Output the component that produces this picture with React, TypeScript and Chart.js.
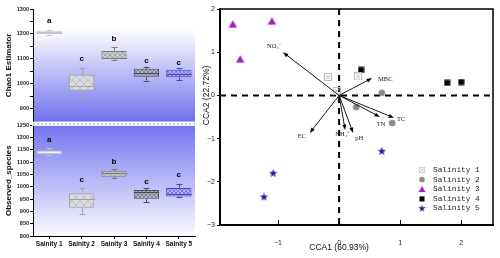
import React, { useEffect, useRef } from "react";
import { Chart, registerables } from "chart.js";
Chart.register(...registerables);

// ---------- Left panel data (box plots) ----------
const categories = ["Sainity 1", "Sainity 2", "Sainity 3", "Sainity 4", "Sainity 5"];
const letters = ["a", "c", "b", "c", "c"];

const chaoTicks = [900, 950, 1000, 1050, 1100, 1150, 1200, 1250, 1300];
const chaoMin = [1197, 952, 1096, 1013, 1016];
const chaoQ1 = [1200, 972, 1100, 1028, 1026];
const chaoMed = [1207, 992, 1104, 1044, 1041];
const chaoQ3 = [1213, 1036, 1132, 1060, 1056];
const chaoMax = [1216, 1064, 1148, 1068, 1064];
const chaoLetterY = [1252, 1100, 1180, 1092, 1086];

const obsTicks = [800, 850, 900, 950, 1000, 1050, 1100, 1150, 1200, 1250];
const obsMin = [1129, 891, 1034, 938, 958];
const obsQ1 = [1131, 915, 1041, 951, 961];
const obsMed = [1137, 949, 1056, 978, 971];
const obsQ3 = [1148, 974, 1065, 987, 995];
const obsMax = [1157, 995, 1072, 994, 1012];
const obsLetterY = [1190, 1029, 1103, 1022, 1047];

// ---------- Right panel data (CCA) ----------
const salinityLabels = ["Salinity 1", "Salinity 2", "Salinity 3", "Salinity 4", "Salinity 5"];
const s1X = [-0.18, 0.31, -0.04];
const s1Y = [0.43, 0.44, 0.1];
const s2X = [0.7, 0.28, 0.87];
const s2Y = [0.06, -0.27, -0.64];
const s3X = [-1.74, -1.62, -1.1];
const s3Y = [1.65, 0.84, 1.72];
const s4X = [0.36, 1.77, 2.0];
const s4Y = [0.59, 0.29, 0.31];
const s5X = [0.7, -1.08, -1.23];
const s5Y = [-1.29, -1.8, -2.35];

const envLabels = ["NO₃⁻", "MBC", "TC", "TN", "EC", "NH₄⁺", "pH"];
const envX = [-0.92, 0.54, 0.9, 0.67, -0.48, 0.1, 0.23];
const envY = [1.0, 0.4, -0.52, -0.5, -0.87, -0.8, -0.87];

const cca1Title = "CCA1 (60.93%)";
const cca2Title = "CCA2 (22.72%)";
const xTickValues = [-1, 0, 1, 2];

// styling (not data)
const boxColors = ["#c4c4c4", "#a4a4a4", "#7c7c7c", "#4c4c5c", "#4646c6"];
const boxFills = ["#f2f2f2", "#dadadf", "#c9c9cd", "#b4b4c2", "#b4b4f2"];
const envLabelOffsets = [
  [-9, -6, "center"],
  [6, 1, "left"],
  [3, 1, "left"],
  [1, 7, "center"],
  [-8, 3, "center"],
  [-3, 4, "center"],
  [6, 5, "center"],
];

function makeCanvas(w: number, h: number, draw: (g: CanvasRenderingContext2D) => void) {
  const c = document.createElement("canvas");
  c.width = w;
  c.height = h;
  const g = c.getContext("2d") as CanvasRenderingContext2D;
  draw(g);
  return c;
}

function makePattern(fill: string, line: string, step: number) {
  const c = makeCanvas(step, step, (g) => {
    g.fillStyle = fill;
    g.fillRect(0, 0, step, step);
    g.strokeStyle = line;
    g.lineWidth = 0.7;
    g.beginPath();
    g.moveTo(0, 0);
    g.lineTo(step, step);
    g.moveTo(step, 0);
    g.lineTo(0, step);
    g.stroke();
  });
  const g2 = document.createElement("canvas").getContext("2d") as CanvasRenderingContext2D;
  return g2.createPattern(c, "repeat") as CanvasPattern;
}

function boxChart(
  canvas: HTMLCanvasElement,
  cfg: {
    min: number[]; q1: number[]; med: number[]; q3: number[]; max: number[]; letterY: number[];
    ticks: number[]; yMin: number; yMax: number; labelEvery: number; title: string;
    showX: boolean; padTop: number; padBottom: number; gradientTopFirst: boolean; xHeight: number;
  }
) {
  const patterns = [
    boxFills[0],
    makePattern(boxFills[1], "#b6b6b6", 8),
    makePattern(boxFills[2], "#959595", 5),
    makePattern(boxFills[3], "#6a6a7a", 4),
    makePattern(boxFills[4], "#6060d8", 4),
  ];
  const bgPlugin = {
    id: "bgGrad",
    beforeDraw(chart: any) {
      const { ctx, chartArea: a } = chart;
      ctx.save();
      const gr = ctx.createLinearGradient(0, a.top, 0, a.bottom);
      if (cfg.gradientTopFirst) {
        gr.addColorStop(0, "#ffffff");
        gr.addColorStop(0.18, "#ffffff");
        gr.addColorStop(1, "rgb(112,112,238)");
      } else {
        gr.addColorStop(0, "rgb(116,116,240)");
        gr.addColorStop(1, "#fbfbff");
      }
      ctx.fillStyle = gr;
      ctx.fillRect(a.left, a.top, a.right - a.left, a.bottom - a.top);
      ctx.restore();
    },
  };
  const extrasPlugin = {
    id: "boxExtras",
    afterDatasetsDraw(chart: any) {
      const { ctx } = chart;
      const meta = chart.getDatasetMeta(0);
      const ys = chart.scales.y;
      const py = (v: number) => ys.getPixelForValue(v);
      ctx.save();
      for (let i = 0; i < categories.length; i++) {
        const bar = meta.data[i];
        const x = Math.round(bar.x) + 0.5;
        const w = bar.width;
        ctx.strokeStyle = boxColors[i];
        ctx.lineWidth = 1;
        ctx.beginPath();
        ctx.moveTo(x - w / 2, Math.round(py(cfg.med[i])) + 0.5);
        ctx.lineTo(x + w / 2, Math.round(py(cfg.med[i])) + 0.5);
        ctx.moveTo(x, py(cfg.q3[i]));
        ctx.lineTo(x, py(cfg.max[i]));
        ctx.moveTo(x - 3, Math.round(py(cfg.max[i])) + 0.5);
        ctx.lineTo(x + 3, Math.round(py(cfg.max[i])) + 0.5);
        ctx.moveTo(x, py(cfg.q1[i]));
        ctx.lineTo(x, py(cfg.min[i]));
        ctx.moveTo(x - 3, Math.round(py(cfg.min[i])) + 0.5);
        ctx.lineTo(x + 3, Math.round(py(cfg.min[i])) + 0.5);
        ctx.stroke();
        ctx.fillStyle = "#000";
        ctx.font = "bold 8px 'Liberation Sans'";
        ctx.textAlign = "center";
        ctx.textBaseline = "middle";
        ctx.fillText(letters[i], bar.x, py(cfg.letterY[i]));
      }
      if (!cfg.gradientTopFirst) {
        const a = chart.chartArea;
        ctx.fillStyle = "#fff";
        ctx.fillRect(a.left - 1, a.top - 3.5, a.right - a.left + 1, 4);
        ctx.strokeStyle = "#a8a8a8";
        ctx.setLineDash([2, 2]);
        ctx.beginPath();
        ctx.moveTo(a.left, a.top - 1.5);
        ctx.lineTo(a.right, a.top - 1.5);
        ctx.stroke();
      }
      ctx.restore();
    },
  };
  return new Chart(canvas, {
    type: "bar",
    data: {
      labels: categories,
      datasets: [
        {
          data: cfg.q1.map((v, i) => [v, cfg.q3[i]]) as any,
          backgroundColor: patterns as any,
          borderColor: boxColors,
          borderWidth: 1,
          borderSkipped: false,
          barPercentage: 0.78,
          categoryPercentage: 1,
        },
      ],
    },
    options: {
      responsive: false,
      animation: false,
      layout: { padding: { top: cfg.padTop, right: 5, left: 0, bottom: cfg.padBottom } },
      plugins: { legend: { display: false }, tooltip: { enabled: false } },
      scales: {
        x: {
          display: cfg.showX,
          afterFit: (s: any) => { s.height = cfg.xHeight; },
          grid: { drawOnChartArea: false, offset: false, tickLength: 3, color: "#000" },
          border: { color: "#000", width: 1 },
          ticks: { font: { family: "'Liberation Sans'", size: 6.5, weight: "bold" }, color: "#111", padding: 1, maxRotation: 0, autoSkip: false },
        },
        y: {
          min: cfg.yMin,
          max: cfg.yMax,
          afterFit: (s: any) => { s.width = 33; },
          afterBuildTicks: (s: any) => { s.ticks = cfg.ticks.map((v) => ({ value: v })); },
          grid: { drawOnChartArea: false, tickLength: 3, color: "#000" },
          border: { color: "#000", width: 1 },
          ticks: {
            padding: 1,
            autoSkip: false,
            font: { family: "'Liberation Sans'", size: 5.5, weight: "bold" },
            color: "#222",
            callback: (v: any) => (Math.round(Number(v)) % cfg.labelEvery === 0 ? String(v) : ""),
          },
          title: { display: true, text: cfg.title, font: { family: "'Liberation Sans'", size: 8, weight: "bold" }, color: "#111", padding: { top: 4, bottom: 0 } },
        },
      },
    },
    plugins: [bgPlugin, extrasPlugin],
  } as any);
}

function ccaChart(canvas: HTMLCanvasElement) {
  const imgS1 = makeCanvas(8, 8, (g) => {
    g.strokeStyle = "#bdbdbd";
    g.lineWidth = 1;
    g.strokeRect(0.5, 0.5, 7, 7);
    g.beginPath();
    g.moveTo(2, 2); g.lineTo(6, 6);
    g.moveTo(6, 2); g.lineTo(2, 6);
    g.stroke();
  });
  const imgS2 = makeCanvas(8, 8, (g) => {
    g.fillStyle = "#8a8a8a";
    g.beginPath(); g.arc(4, 4, 3.3, 0, Math.PI * 2); g.fill();
  });
  const imgS3 = makeCanvas(9, 9, (g) => {
    g.fillStyle = "#a020c8";
    g.beginPath(); g.moveTo(4.5, 0.5); g.lineTo(8.7, 8); g.lineTo(0.3, 8); g.closePath(); g.fill();
  });
  const imgS4 = makeCanvas(7, 7, (g) => {
    g.fillStyle = "#000"; g.fillRect(0.5, 0.5, 6, 6);
  });
  const imgS5 = makeCanvas(9, 9, (g) => {
    g.fillStyle = "#1a1aa8";
    g.beginPath();
    for (let k = 0; k < 10; k++) {
      const r = k % 2 === 0 ? 4.4 : 1.8;
      const ang = -Math.PI / 2 + (k * Math.PI) / 5;
      const px = 4.5 + r * Math.cos(ang), py = 4.7 + r * Math.sin(ang);
      k === 0 ? g.moveTo(px, py) : g.lineTo(px, py);
    }
    g.closePath(); g.fill();
  });
  const imgs = [imgS1, imgS2, imgS3, imgS4, imgS5];
  const xs = [s1X, s2X, s3X, s4X, s5X];
  const ysArr = [s1Y, s2Y, s3Y, s4Y, s5Y];

  const under = {
    id: "ccaUnder",
    beforeDatasetsDraw(chart: any) {
      const { ctx, chartArea: a, scales } = chart;
      const x0 = scales.x.getPixelForValue(0);
      const y0 = scales.y.getPixelForValue(0);
      ctx.save();
      ctx.strokeStyle = "#000";
      ctx.lineWidth = 2;
      ctx.setLineDash([6, 5]);
      ctx.beginPath();
      ctx.moveTo(x0, a.top); ctx.lineTo(x0, a.bottom);
      ctx.moveTo(a.left, y0); ctx.lineTo(a.right, y0);
      ctx.stroke();
      ctx.restore();
    },
    afterDatasetsDraw(chart: any) {
      const { ctx, chartArea: a, scales } = chart;
      const xs0 = scales.x, ys0 = scales.y;
      const ox = xs0.getPixelForValue(0), oy = ys0.getPixelForValue(0);
      ctx.save();
      // arrows
      for (let i = 0; i < envLabels.length; i++) {
        const hx = xs0.getPixelForValue(envX[i]);
        const hy = ys0.getPixelForValue(envY[i]);
        const ang = Math.atan2(hy - oy, hx - ox);
        ctx.strokeStyle = "#000";
        ctx.fillStyle = "#000";
        ctx.lineWidth = 0.9;
        ctx.beginPath();
        ctx.moveTo(ox, oy);
        ctx.lineTo(hx - 3 * Math.cos(ang), hy - 3 * Math.sin(ang));
        ctx.stroke();
        ctx.beginPath();
        ctx.moveTo(hx, hy);
        ctx.lineTo(hx - 5.5 * Math.cos(ang) + 2 * Math.sin(ang), hy - 5.5 * Math.sin(ang) - 2 * Math.cos(ang));
        ctx.lineTo(hx - 5.5 * Math.cos(ang) - 2 * Math.sin(ang), hy - 5.5 * Math.sin(ang) + 2 * Math.cos(ang));
        ctx.closePath();
        ctx.fill();
        const off = envLabelOffsets[i];
        ctx.font = "6.5px 'Liberation Serif'";
        ctx.textAlign = off[2] as CanvasTextAlign;
        ctx.textBaseline = "middle";
        ctx.fillStyle = "#222";
        ctx.fillText(envLabels[i], hx + (off[0] as number), hy + (off[1] as number));
      }
      // frame
      ctx.strokeStyle = "#000";
      ctx.lineWidth = 1.5;
      ctx.beginPath();
      ctx.moveTo(a.left, a.top); ctx.lineTo(a.right, a.top); ctx.lineTo(a.right, a.bottom);
      ctx.stroke();
      // x inward ticks
      ctx.lineWidth = 1;
      xTickValues.forEach((v) => {
        const px = Math.round(xs0.getPixelForValue(v)) + 0.5;
        ctx.beginPath(); ctx.moveTo(px, a.bottom); ctx.lineTo(px, a.bottom - 5); ctx.stroke();
      });
      // axis titles
      ctx.fillStyle = "#111";
      ctx.font = "8.5px 'Liberation Sans'";
      ctx.textAlign = "center";
      ctx.textBaseline = "middle";
      ctx.fillText(cca1Title, ox, 248);
      ctx.save();
      ctx.translate(7, oy);
      ctx.rotate(-Math.PI / 2);
      ctx.fillText(cca2Title, 0, 0);
      ctx.restore();
      // legend
      const lx = a.right - 71, ly = a.bottom - 55;
      ctx.font = "7.8px 'Liberation Mono'";
      ctx.textAlign = "left";
      ctx.fillStyle = "#222";
      for (let i = 0; i < salinityLabels.length; i++) {
        const yy = ly + i * 9.6;
        const im = imgs[i];
        const sc = i === 0 ? 0.8 : 0.85;
        ctx.drawImage(im, lx - (im.width * sc) / 2, yy - (im.height * sc) / 2, im.width * sc, im.height * sc);
        ctx.fillText(salinityLabels[i], lx + 11, yy);
      }
      ctx.restore();
    },
  };

  return new Chart(canvas, {
    type: "scatter",
    data: {
      datasets: salinityLabels.map((lab, k) => ({
        label: lab,
        data: xs[k].map((x, i) => ({ x, y: ysArr[k][i] })),
        pointStyle: imgs[k] as any,
        pointRadius: 4,
      })),
    },
    options: {
      responsive: false,
      animation: false,
      layout: { padding: { top: 9, right: 7, left: 0, bottom: 0 } },
      plugins: { legend: { display: false }, tooltip: { enabled: false } },
      scales: {
        x: {
          type: "linear",
          min: -1.95,
          max: 2.52,
          afterFit: (s: any) => { s.height = 33; },
          afterBuildTicks: (s: any) => { s.ticks = xTickValues.map((v) => ({ value: v })); },
          grid: { display: false },
          border: { display: true, color: "#000", width: 2 },
          ticks: {
            padding: 6,
            font: { family: "'Liberation Sans'", size: 7 },
            color: "#222",
            callback: (v: any) => String(v).replace("-", "−"),
          },
        },
        y: {
          min: -3,
          max: 2,
          afterFit: (s: any) => { s.width = 20; },
          grid: { drawOnChartArea: false, tickLength: 3, color: "#000" },
          border: { display: true, color: "#000", width: 2 },
          ticks: {
            stepSize: 1,
            padding: 2,
            font: { family: "'Liberation Sans'", size: 7 },
            color: "#222",
            callback: (v: any) => String(v).replace("-", "−"),
          },
        },
      },
    },
    plugins: [under],
  } as any);
}

export default function App() {
  const topRef = useRef<HTMLCanvasElement>(null);
  const botRef = useRef<HTMLCanvasElement>(null);
  const rightRef = useRef<HTMLCanvasElement>(null);

  useEffect(() => {
    const c1 = boxChart(topRef.current as HTMLCanvasElement, {
      min: chaoMin, q1: chaoQ1, med: chaoMed, q3: chaoQ3, max: chaoMax, letterY: chaoLetterY,
      ticks: chaoTicks, yMin: 848, yMax: 1300, labelEvery: 100, title: "Chao1 Estimator",
      showX: false, padTop: 9, padBottom: 4, gradientTopFirst: true, xHeight: 0,
    });
    const c2 = boxChart(botRef.current as HTMLCanvasElement, {
      min: obsMin, q1: obsQ1, med: obsMed, q3: obsQ3, max: obsMax, letterY: obsLetterY,
      ticks: obsTicks, yMin: 800, yMax: 1250, labelEvery: 50, title: "Observed_species",
      showX: true, padTop: 4, padBottom: 0, gradientTopFirst: false, xHeight: 22,
    });
    const c3 = ccaChart(rightRef.current as HTMLCanvasElement);
    return () => { c1.destroy(); c2.destroy(); c3.destroy(); };
  }, []);

  return (
    <div style={{ position: "absolute", left: 0, top: 0, width: 500, height: 258, background: "#fff", overflow: "hidden" }}>
      <canvas ref={topRef} width={200} height={126} style={{ position: "absolute", left: 0, top: 0, width: 200, height: 126 }} />
      <canvas ref={botRef} width={200} height={137} style={{ position: "absolute", left: 0, top: 121, width: 200, height: 137 }} />
      <canvas ref={rightRef} width={300} height={258} style={{ position: "absolute", left: 200, top: 0, width: 300, height: 258 }} />
    </div>
  );
}
